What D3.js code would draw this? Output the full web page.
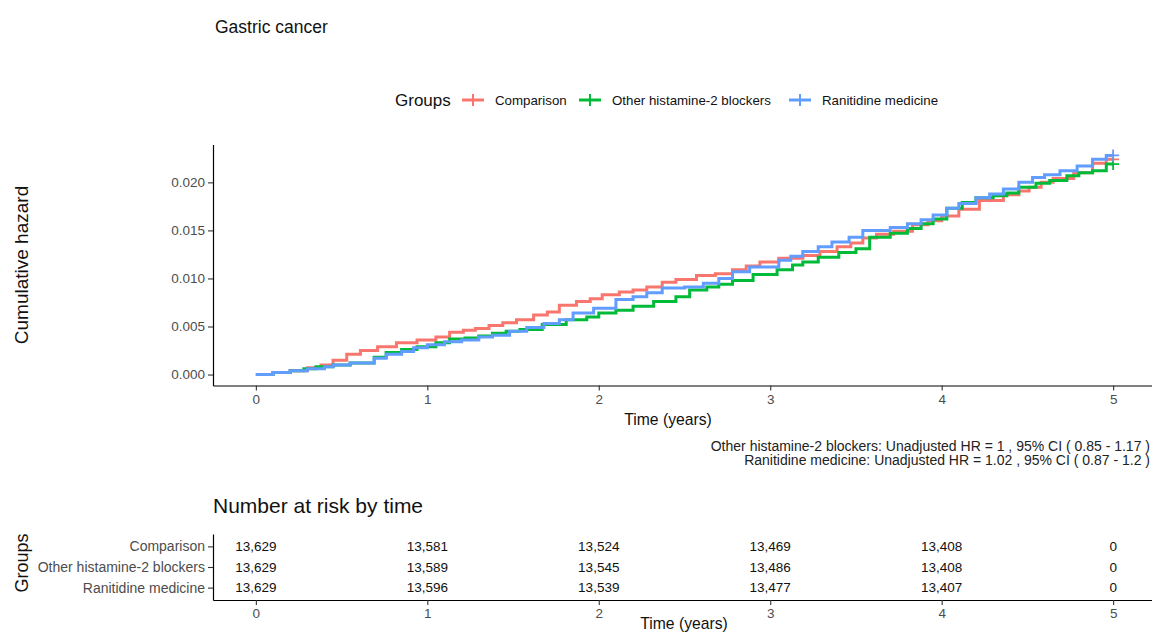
<!DOCTYPE html>
<html>
<head>
<meta charset="utf-8">
<script src="https://d3js.org/d3.v7.min.js"></script>
<style>
  body { margin: 0; background: #fff; }
  text { font-family: "Liberation Sans", Arial, sans-serif; }
</style>
</head>
<body>
<svg id="chart" width="1152" height="632"></svg>
<script>
// groups + colours (ggplot default hues)
const groups = ["Comparison", "Other histamine-2 blockers", "Ranitidine medicine"];
const colors = ["#F8766D", "#00BA38", "#619CFF"];

// cumulative hazard steps
const compTime = [0,0.1,0.2,0.3,0.38,0.45,0.53,0.61,0.71,0.82,0.94,1.05,1.13,1.21,1.28,1.36,1.44,1.52,1.62,1.70,1.77,1.87,1.95,2.02,2.12,2.2,2.28,2.37,2.45,2.57,2.68,2.78,2.86,2.94,3.05,3.19,3.29,3.39,3.47,3.54,3.62,3.72,3.83,3.92,4.0,4.1,4.22,4.36,4.45,4.51,4.58,4.65,4.77,4.88,4.96];
const compHaz = [0,.0002,.0004,.0007,.0010,.0015,.0021,.0025,.0029,.0033,.0036,.0039,.0044,.0046,.0048,.0051,.0054,.0057,.0062,.0065,.0072,.0076,.0079,.0083,.0086,.0088,.0091,.0096,.0099,.0103,.0105,.0109,.0113,.0117,.0121,.0124,.0128,.0133,.0137,.0142,.0146,.0149,.0156,.0160,.0165,.0172,.0181,.0187,.0191,.0195,.0200,.0204,.0210,.0220,.0224];

const otherTime = [0,0.1,0.2,0.28,0.35,0.45,0.55,0.69,0.76,0.85,0.94,1.05,1.13,1.22,1.30,1.38,1.46,1.54,1.67,1.81,1.93,2.0,2.1,2.2,2.32,2.45,2.53,2.63,2.70,2.78,2.90,3.04,3.13,3.19,3.28,3.40,3.50,3.58,3.70,3.80,3.88,3.95,4.03,4.12,4.20,4.30,4.38,4.45,4.55,4.63,4.73,4.80,4.88,4.96];
const otherHaz = [0,.0002,.0004,.0006,.0008,.0010,.0012,.0018,.0023,.0026,.0029,.0033,.0037,.0038,.0040,.0043,.0045,.0047,.0052,.0057,.0060,.0064,.0067,.0071,.0076,.0081,.0088,.0091,.0094,.0098,.0104,.0109,.0114,.0117,.0122,.0127,.0131,.0143,.0147,.0152,.0157,.0162,.0173,.0179,.0184,.0186,.0189,.0195,.0199,.0202,.0207,.0210,.0212,.0219];

const raniTime = [0,0.1,0.2,0.3,0.40,0.45,0.55,0.69,0.76,0.85,0.92,1.0,1.10,1.20,1.30,1.38,1.48,1.58,1.68,1.77,1.85,1.97,2.1,2.2,2.28,2.37,2.50,2.61,2.70,2.78,2.88,3.05,3.12,3.19,3.28,3.36,3.46,3.54,3.70,3.80,3.88,3.95,4.03,4.10,4.20,4.28,4.36,4.45,4.53,4.60,4.69,4.79,4.88,4.96];
const raniHaz = [0,.0002,.0004,.0006,.0008,.0010,.0012,.0017,.0021,.0024,.0028,.0031,.0034,.0036,.0039,.0041,.0045,.0049,.0053,.0057,.0064,.0069,.0078,.0081,.0085,.0090,.0091,.0095,.0100,.0107,.0112,.0119,.0123,.0128,.0133,.0138,.0143,.0150,.0153,.0157,.0161,.0166,.0173,.0178,.0184,.0188,.0193,.0200,.0205,.0208,.0212,.0217,.0224,.0228];

const endTime = 5;

// number at risk table
const riskTimes = [0, 1, 2, 3, 4, 5];
const riskComparison = [13629, 13581, 13524, 13469, 13408, 0];
const riskOther = [13629, 13589, 13545, 13486, 13408, 0];
const riskRanitidine = [13629, 13596, 13539, 13477, 13407, 0];

const xTicks = [0, 1, 2, 3, 4, 5];
const yTicks = [0, 0.005, 0.010, 0.015, 0.020];

const hrLines = [
  "Other histamine-2 blockers: Unadjusted HR = 1 , 95% CI ( 0.85 - 1.17 )",
  "Ranitidine medicine: Unadjusted HR = 1.02 , 95% CI ( 0.87 - 1.2 )"
];

const series = [
  { name: groups[0], color: colors[0], pts: compTime.map((t, i) => [t, compHaz[i]]) },
  { name: groups[1], color: colors[1], pts: otherTime.map((t, i) => [t, otherHaz[i]]) },
  { name: groups[2], color: colors[2], pts: raniTime.map((t, i) => [t, raniHaz[i]]) }
];
series.forEach(s => s.pts.push([endTime, s.pts[s.pts.length - 1][1]]));

const svg = d3.select("#chart");

// title
svg.append("text").attr("x", 215).attr("y", 33)
  .style("font-size", "17.5px").style("fill", "#111").text("Gastric cancer");

// legend
const leg = svg.append("g");
leg.append("text").attr("x", 395).attr("y", 106)
  .style("font-size", "17px").style("fill", "#111").text("Groups");
const legKeys = [462, 579, 789];
series.forEach((s, i) => {
  const kx = legKeys[i];
  leg.append("line").attr("x1", kx).attr("x2", kx + 22).attr("y1", 100).attr("y2", 100)
    .style("stroke", s.color).style("stroke-width", 3);
  leg.append("line").attr("x1", kx + 11).attr("x2", kx + 11).attr("y1", 94).attr("y2", 106)
    .style("stroke", s.color).style("stroke-width", 2);
  leg.append("text").attr("x", kx + 33).attr("y", 105)
    .style("font-size", "13.3px").style("fill", "#111").text(s.name);
});

// main plot scales (ggplot style 5% expansion)
const x = d3.scaleLinear().domain([-0.25, 5.25]).range([213, 1156]);
const yMax = d3.max(series, s => d3.max(s.pts, p => p[1]));
const yPad = yMax * 0.05;
const y = d3.scaleLinear().domain([-yPad, yMax + yPad]).range([385.5, 144.5]);

function styleAxis(g, size) {
  g.select(".domain").style("stroke", "#000").style("stroke-width", 1.2);
  g.selectAll(".tick line").style("stroke", "#333").style("stroke-width", 1.1);
  g.selectAll(".tick text").style("fill", "#4d4d4d").style("font-size", size)
    .style("font-family", "'Liberation Sans', Arial, sans-serif");
}

const gx = svg.append("g").attr("transform", "translate(0,385.5)")
  .call(d3.axisBottom(x).tickValues(xTicks).tickFormat(d3.format("d"))
    .tickSize(5).tickSizeOuter(0).tickPadding(4));
styleAxis(gx, "13.5px");

const gy = svg.append("g").attr("transform", "translate(213,0)")
  .call(d3.axisLeft(y).tickValues(yTicks).tickFormat(d3.format(".3f")).tickSize(5).tickSizeOuter(0).tickPadding(3));
styleAxis(gy, "13.5px");

svg.append("text").attr("transform", "translate(28,265) rotate(-90)")
  .attr("text-anchor", "middle").style("font-size", "19px").style("fill", "#111")
  .text("Cumulative hazard");
svg.append("text").attr("x", 668).attr("y", 425).attr("text-anchor", "middle")
  .style("font-size", "15.7px").style("fill", "#111").text("Time (years)");

// curves
const line = d3.line().x(d => x(d[0])).y(d => y(d[1])).curve(d3.curveStepAfter);
series.forEach(s => {
  svg.append("path").datum(s.pts).attr("d", line)
    .style("fill", "none").style("stroke", s.color).style("stroke-width", 3);
});
// censor marks at end
series.forEach(s => {
  const p = s.pts[s.pts.length - 1];
  const cx = x(p[0]), cy = y(p[1]);
  svg.append("path").attr("d", `M${cx - 6},${cy}H${cx + 6}M${cx},${cy - 6}V${cy + 6}`)
    .style("stroke", s.color).style("stroke-width", 1.8);
});

// HR annotations
hrLines.forEach((t, i) => {
  svg.append("text").attr("x", 1150).attr("y", 451 + i * 14)
    .attr("text-anchor", "end").style("font-size", "14px").style("fill", "#222").text(t);
});

// risk table
svg.append("text").attr("x", 213).attr("y", 513)
  .style("font-size", "21px").style("fill", "#111").text("Number at risk by time");

const yT = d3.scalePoint().domain(groups).range([534, 600]).padding(0.6);
const riskRows = [riskComparison, riskOther, riskRanitidine];

const gtx = svg.append("g").attr("transform", "translate(0,600)")
  .call(d3.axisBottom(x).tickValues(xTicks).tickFormat(d3.format("d"))
    .tickSize(5).tickSizeOuter(0).tickPadding(3));
styleAxis(gtx, "13.5px");
const gty = svg.append("g").attr("transform", "translate(213,0)")
  .call(d3.axisLeft(yT).tickSize(5).tickSizeOuter(0).tickPadding(3));
styleAxis(gty, "14px");

const fmt = d3.format(",");
riskRows.forEach((row, gi) => {
  svg.append("g").selectAll("text").data(row).join("text")
    .attr("x", (d, i) => x(riskTimes[i]))
    .attr("y", yT(groups[gi]))
    .attr("dy", "0.35em")
    .attr("text-anchor", "middle")
    .style("font-size", "13.5px").style("fill", "#111")
    .text(d => fmt(d));
});

svg.append("text").attr("transform", "translate(28,563) rotate(-90)")
  .attr("text-anchor", "middle").style("font-size", "18px").style("fill", "#111").text("Groups");
svg.append("text").attr("x", 684).attr("y", 629).attr("text-anchor", "middle")
  .style("font-size", "15.7px").style("fill", "#111").text("Time (years)");
</script>
</body>
</html>
